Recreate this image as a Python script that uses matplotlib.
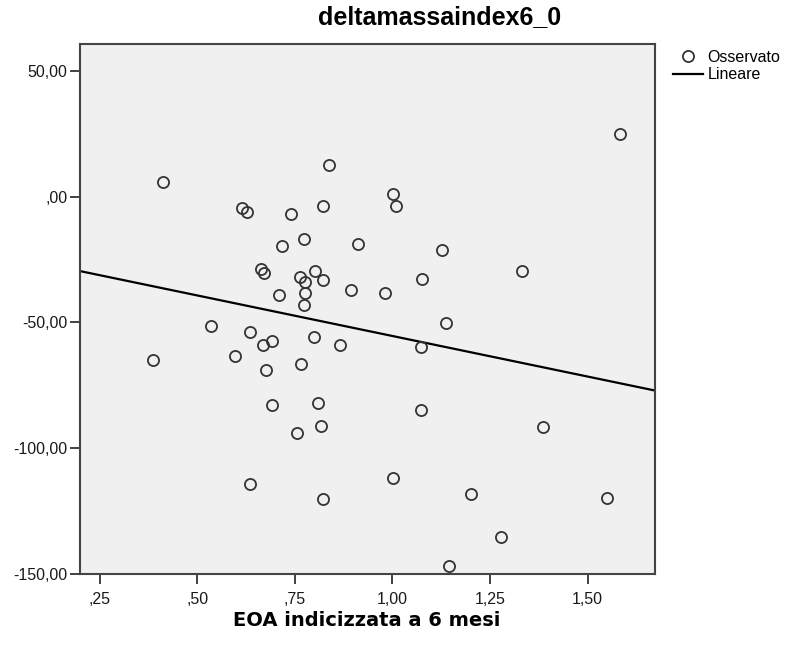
import numpy as np
import matplotlib
matplotlib.use("Agg")
import matplotlib.pyplot as plt
from matplotlib.ticker import FixedLocator, FixedFormatter

# EOA indicizzata a 6 mesi vs deltamassaindex6_0
eoa = [0.412, 0.615, 0.628, 0.663, 0.671, 0.837, 1.001, 1.008, 0.740, 0.821,
       0.774, 0.718, 0.912, 1.126, 0.801, 0.763, 0.775, 0.821, 1.076, 0.708,
       0.776, 0.893, 0.980, 0.774, 1.583, 1.332, 0.534, 0.634, 0.669, 0.692,
       0.385, 0.597, 0.677, 0.692, 0.635, 1.137, 0.799, 0.865, 1.072, 0.766,
       0.810, 1.072, 0.817, 0.756, 1.001, 0.822, 1.202, 1.387, 1.551, 1.277,
       1.144]
delta = [6.0, -4.6, -6.2, -28.8, -30.3, 12.6, 1.2, -3.8, -7.0, -3.6,
         -16.7, -19.8, -18.8, -21.1, -29.6, -32.0, -34.1, -33.2, -32.8, -39.0,
         -38.4, -37.2, -38.4, -43.1, 24.9, -29.7, -51.4, -53.9, -59.0, -57.5,
         -65.1, -63.3, -69.0, -83.0, -114.2, -50.4, -55.8, -59.2, -59.8, -66.4,
         -82.2, -84.9, -91.1, -94.1, -112.0, -120.4, -118.3, -91.5, -120.0, -135.6,
         -146.9]

x_ticks = [0.25, 0.50, 0.75, 1.00, 1.25, 1.50]
x_tick_labels = [",25", ",50", ",75", "1,00", "1,25", "1,50"]
y_ticks = [50, 0, -50, -100, -150]
y_tick_labels = ["50,00", ",00", "-50,00", "-100,00", "-150,00"]

title = "deltamassaindex6_0"
x_label = "EOA indicizzata a 6 mesi"
legend_labels = ["Osservato", "Lineare"]

plt.rcParams["font.family"] = ["Liberation Sans", "DejaVu Sans"]

fig = plt.figure(figsize=(7.95, 6.47), dpi=100)
ax = fig.add_axes([80 / 795, 1 - 573.5 / 647, 575 / 795, 529.5 / 647])
ax.set_facecolor("#f0f0f0")

xlim = (0.199, 1.673)
ax.set_xlim(*xlim)
ax.set_ylim(-150, 60.8)

# least-squares linear fit
slope, intercept = np.polyfit(eoa, delta, 1)
xs = np.array(xlim)
line, = ax.plot(xs, intercept + slope * xs, color="black", lw=1.6, zorder=2)

pts, = ax.plot(eoa, delta, linestyle="none", marker="o", markersize=8,
               markerfacecolor="none", markeredgecolor="#333333",
               markeredgewidth=1.3, zorder=3)

ax.xaxis.set_major_locator(FixedLocator(x_ticks))
ax.xaxis.set_major_formatter(FixedFormatter(x_tick_labels))
ax.yaxis.set_major_locator(FixedLocator(y_ticks))
ax.yaxis.set_major_formatter(FixedFormatter(y_tick_labels))
ax.tick_params(direction="out", length=7, width=1.3, color="#333333",
               labelsize=11.5, labelcolor="#1a1a1a")
ax.tick_params(axis="x", pad=6)
ax.tick_params(axis="y", pad=2)

for s in ax.spines.values():
    s.set_color("#444444")
    s.set_linewidth(1.5)

fig.text(440 / 795, 1 - 17 / 647, title, ha="center", va="center",
         fontsize=18, fontweight="bold")
fig.text(366.5 / 795, 1 - 620 / 647, x_label, ha="center", va="center",
         fontsize=14, fontweight="bold", family=["DejaVu Sans"])

fig.legend([pts, line], legend_labels, loc="upper left",
           bbox_to_anchor=(673 / 795, 1 - 50 / 647), frameon=False,
           fontsize=11.5, handlelength=1.9, handletextpad=0.25,
           labelspacing=0.15, borderpad=0, borderaxespad=0)

fig.savefig("out.png", dpi=100)
